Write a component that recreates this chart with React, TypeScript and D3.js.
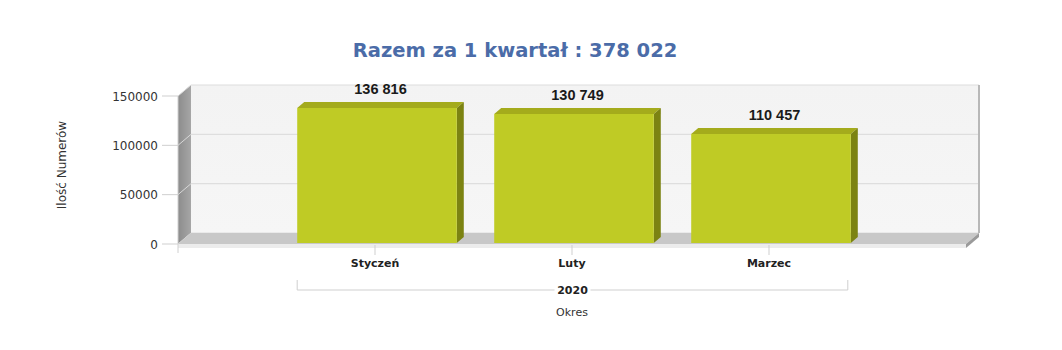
import React from "react";
import * as d3 from "d3";

const categories = ["Styczeń", "Luty", "Marzec"];
const values = [136816, 130749, 110457];
const valueLabels = ["136 816", "130 749", "110 457"];
const yTicks = [0, 50000, 100000, 150000];
const yearLabel = "2020";
const titleText = "Razem za 1 kwartał : 378 022";
const yTitle = "Ilość Numerów";
const xTitle = "Okres";

const W = 1062;
const H = 350;
// depth of the 3D box
const DX = 13;
const DY = -11;
// depth of each bar
const BDX = 7;
const BDY = -6;

const VERDANA = "'DejaVu Sans', Verdana, sans-serif";
const ARIAL = "'Liberation Sans', Arial, sans-serif";

export default function App() {
  const x = d3.scaleLinear().domain([-1, 3]).range([178, 966]);
  const y = d3.scaleLinear().domain([0, 150000]).range([244, 96]);
  const step = x(1) - x(0);
  const barW = step * 0.81;

  const left = x(-1);
  const right = x(3);
  const y0 = y(0);
  const yTop = y(150000);

  const pts = (a: [number, number][]) => a.map((p) => p.join(",")).join(" ");

  return (
    <svg
      width={W}
      height={H}
      style={{ position: "absolute", left: 0, top: 0, background: "#fff" }}
    >
      <defs>
        <linearGradient id="wallL" x1="0" x2="1" y1="0" y2="0">
          <stop offset="0" stopColor="#8c8c8c" />
          <stop offset="1" stopColor="#a6a6a6" />
        </linearGradient>
        <linearGradient id="back" x1="0" x2="0" y1="0" y2="1">
          <stop offset="0" stopColor="#f3f3f3" />
          <stop offset="1" stopColor="#f6f6f6" />
        </linearGradient>
      </defs>

      {/* title */}
      <text
        x={515}
        y={57}
        textAnchor="middle"
        fontFamily={VERDANA}
        fontWeight="bold"
        fontSize={19.5}
        fill="#4b6ca8"
      >
        {titleText}
      </text>

      {/* back wall */}
      <rect
        x={left + DX}
        y={yTop + DY}
        width={right - left}
        height={y0 - yTop}
        fill="url(#back)"
      />
      {/* back wall grid */}
      {yTicks.map((t) => (
        <line
          key={"g" + t}
          x1={left + DX}
          x2={right + DX}
          y1={y(t) + DY}
          y2={y(t) + DY}
          stroke="#dedede"
          strokeWidth={1.2}
        />
      ))}
      {/* right edge of back wall */}
      <line
        x1={right + DX}
        x2={right + DX}
        y1={yTop + DY}
        y2={y0 + DY}
        stroke="#b8b8b8"
        strokeWidth={2}
      />

      {/* left wall */}
      <polygon
        points={pts([
          [left, yTop],
          [left + DX, yTop + DY],
          [left + DX, y0 + DY],
          [left, y0],
        ])}
        fill="url(#wallL)"
      />
      {yTicks.map((t) => (
        <line
          key={"lw" + t}
          x1={left}
          y1={y(t)}
          x2={left + DX}
          y2={y(t) + DY}
          stroke="#d8d8d8"
          strokeWidth={1}
        />
      ))}

      {/* floor top */}
      <polygon
        points={pts([
          [left, y0],
          [left + DX, y0 + DY],
          [right + DX, y0 + DY],
          [right, y0],
        ])}
        fill="#c8c8c8"
      />
      {/* floor front face and right end */}
      <rect x={left} y={y0} width={right - left} height={4} fill="#ececec" />
      <polygon
        points={pts([
          [right, y0],
          [right + DX, y0 + DY],
          [right + DX, y0 + DY + 4],
          [right, y0 + 4],
        ])}
        fill="#9a9a9a"
      />

      {/* y axis */}
      <line x1={left} x2={left} y1={yTop} y2={y0 + 9} stroke="#d0d0d0" />
      {yTicks.map((t) => (
        <g key={"t" + t}>
          <line
            x1={left - 16}
            x2={left}
            y1={y(t)}
            y2={y(t)}
            stroke="#cfcfcf"
          />
          <text
            x={left - 20}
            y={y(t) + 4.5}
            textAnchor="end"
            fontFamily={VERDANA}
            fontSize={12}
            fill="#333"
          >
            {t}
          </text>
        </g>
      ))}
      <text
        transform={`translate(66,165) rotate(-90)`}
        textAnchor="middle"
        fontFamily={VERDANA}
        fontSize={12}
        fill="#333"
      >
        {yTitle}
      </text>

      {/* bars */}
      {values.map((v, i) => {
        const xc = x(i) + 2;
        const bx0 = xc - barW / 2;
        const bx1 = xc + barW / 2;
        const by0 = y0 - 1;
        const by1 = y(v) - 1;
        return (
          <g key={"b" + i}>
            <polygon
              points={pts([
                [bx0, by1],
                [bx0 + BDX, by1 + BDY],
                [bx1 + BDX, by1 + BDY],
                [bx1, by1],
              ])}
              fill="#a4ab1c"
            />
            <polygon
              points={pts([
                [bx1, by1],
                [bx1 + BDX, by1 + BDY],
                [bx1 + BDX, by0 + BDY],
                [bx1, by0],
              ])}
              fill="#7c8312"
            />
            <rect
              x={bx0}
              y={by1}
              width={bx1 - bx0}
              height={by0 - by1}
              fill="#bfcb25"
            />
            <text
              x={xc + BDX / 2}
              y={by1 + BDY - 8}
              textAnchor="middle"
              fontFamily={ARIAL}
              fontWeight="bold"
              fontSize={14.5}
              fill="#1a1a1a"
            >
              {valueLabels[i]}
            </text>
          </g>
        );
      })}

      {/* x axis ticks and labels */}
      {categories.map((c, i) => (
        <g key={"c" + i}>
          <line
            x1={x(i)}
            x2={x(i)}
            y1={y0 + 1}
            y2={y0 + 11}
            stroke="#cfcfcf"
          />
          <text
            x={x(i)}
            y={y0 + 23}
            textAnchor="middle"
            fontFamily={VERDANA}
            fontWeight="bold"
            fontSize={11}
            fill="#222"
          >
            {c}
          </text>
        </g>
      ))}

      {/* year bracket */}
      {(() => {
        const bx0 = x(-0.4) + 1;
        const bx1 = x(2.4);
        const mid = (bx0 + bx1) / 2;
        const by = 290;
        return (
          <g>
            <path
              d={`M${bx0},${by - 10}V${by}H${mid - 18}M${mid + 18},${by}H${bx1}V${by - 10}`}
              fill="none"
              stroke="#cfcfcf"
            />
            <text
              x={mid}
              y={by + 4}
              textAnchor="middle"
              fontFamily={VERDANA}
              fontWeight="bold"
              fontSize={11}
              fill="#222"
            >
              {yearLabel}
            </text>
          </g>
        );
      })()}

      <text
        x={x(1)}
        y={316}
        textAnchor="middle"
        fontFamily={VERDANA}
        fontSize={11}
        fill="#333"
      >
        {xTitle}
      </text>
    </svg>
  );
}
